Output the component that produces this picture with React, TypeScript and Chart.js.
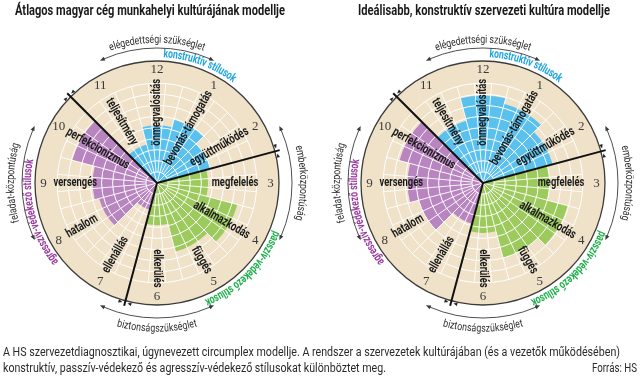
import React, { useEffect, useLayoutEffect, useRef } from 'react';
import { Chart, registerables } from 'chart.js';

Chart.register(...registerables);

// ---------------- data ----------------
const SEGMENT_NUMBERS = ['12', '1', '2', '3', '4', '5', '6', '7', '8', '9', '10', '11'];
const SEGMENT_LABELS = [
  'önmegvalósítás', 'bevonás-támogatás', 'együttműködés', 'megfelelés', 'alkalmazkodás', 'függés',
  'elkerülés', 'ellenállás', 'hatalom', 'versengés', 'perfekcionizmus', 'teljesítmény',
];
const SEGMENT_GROUPS = [
  'konstruktív', 'konstruktív', 'konstruktív', 'passzív', 'passzív', 'passzív',
  'passzív', 'agresszív', 'agresszív', 'agresszív', 'agresszív', 'konstruktív',
];
const AVERAGE_VALUES = [5.2, 5.9, 5.0, 4.6, 7.5, 6.4, 3.8, 2.5, 5.4, 5.8, 7.9, 3.6];
const IDEAL_VALUES = [7.9, 7.4, 6.5, 6.0, 7.9, 7.0, 4.5, 3.8, 6.0, 6.8, 7.8, 5.8];
const SCALE_MAX = 11;
const RING_MAX = 9;

const TITLE_LEFT = 'Átlagos magyar cég munkahelyi kultúrájának modellje';
const TITLE_RIGHT = 'Ideálisabb, konstruktív szervezeti kultúra modellje';
const CAPTION_1 = 'A HS szervezetdiagnosztikai, úgynevezett circumplex modellje. A rendszer a szervezetek kultúrájában (és a vezetők működésében)';
const CAPTION_2 = 'konstruktív, passzív-védekező és agresszív-védekező stílusokat különböztet meg.';
const SOURCE = 'Forrás: HS';

const NEED_TEXTS = ['elégedettségi szükséglet', 'emberközpontúság', 'biztonságszükséglet', 'feladat-központúság'];
const GROUP_TEXTS: Record<string, string> = {
  'konstruktív': 'konstruktív stílusok',
  'passzív': 'passzív-védekező stílusok',
  'agresszív': 'agresszív-védekező stílusok',
};

// ---------------- styles / layout ----------------
const GROUP_FILL: Record<string, string> = { 'konstruktív': '#5ac0ee', 'passzív': '#9dca5d', 'agresszív': '#b985c0' };
const GROUP_TEXT_COLOR: Record<string, string> = { 'konstruktív': '#1fa5de', 'passzív': '#1fb04c', 'agresszív': '#9a3c9f' };
const GROUP_TEXT_ANGLE: Record<string, number> = { 'konstruktív': 20, 'passzív': 135, 'agresszív': 256 };
const NEED_ANGLES = [0, 90, 180, 270];
const LABEL_RADIUS = [0.58, 0.52, 0.59, 0.64, 0.61, 0.73, 0.70, 0.68, 0.71, 0.67, 0.56, 0.58];
const BEIGE = '#efe2c9';
const R = 122;
const CY = 183;
const CW = 320;
const CH = 380;
const SANS = 'Roboto, "Liberation Sans", sans-serif';

const DEG = Math.PI / 180;

function polar(cx: number, cy: number, a: number, r: number) {
  return { x: cx + r * Math.sin(a), y: cy - r * Math.cos(a) };
}

function arrowHead(ctx: CanvasRenderingContext2D, x: number, y: number, dx: number, dy: number, size: number) {
  const len = Math.hypot(dx, dy) || 1;
  const ux = dx / len, uy = dy / len;
  const bx = x - ux * size, by = y - uy * size;
  const w = size * 0.42;
  ctx.beginPath();
  ctx.moveTo(x, y);
  ctx.lineTo(bx - uy * w, by + ux * w);
  ctx.lineTo(bx + uy * w, by - ux * w);
  ctx.closePath();
  ctx.fill();
}

function arcText(ctx: CanvasRenderingContext2D, text: string, cx: number, cy: number, r: number,
  centerDeg: number, font: string, color: string, sx: number, inward: boolean) {
  ctx.save();
  ctx.font = font;
  ctx.fillStyle = color;
  ctx.textAlign = 'center';
  ctx.textBaseline = 'middle';
  const chars = Array.from(text);
  const widths = chars.map((c) => ctx.measureText(c).width * sx);
  const total = widths.reduce((a, b) => a + b, 0);
  const span = total / r;
  const c0 = centerDeg * DEG;
  let acc = 0;
  chars.forEach((ch, i) => {
    const mid = (acc + widths[i] / 2) / r;
    const a = inward ? c0 + span / 2 - mid : c0 - span / 2 + mid;
    const p = polar(cx, cy, a, r);
    ctx.save();
    ctx.translate(p.x, p.y);
    ctx.rotate(inward ? a + Math.PI : a);
    ctx.scale(sx, 1);
    ctx.fillText(ch, 0, 0);
    ctx.restore();
    acc += widths[i];
  });
  ctx.restore();
}

function arrowArc(ctx: CanvasRenderingContext2D, cx: number, cy: number, r: number, a0: number, a1: number) {
  ctx.save();
  ctx.strokeStyle = '#3a3a3a';
  ctx.fillStyle = '#3a3a3a';
  ctx.lineWidth = 0.9;
  ctx.beginPath();
  ctx.arc(cx, cy, r, a0 - Math.PI / 2 + 0.03, a1 - Math.PI / 2 - 0.03);
  ctx.stroke();
  const p0 = polar(cx, cy, a0, r);
  const p1 = polar(cx, cy, a1, r);
  arrowHead(ctx, p0.x, p0.y, -Math.cos(a0), -Math.sin(a0), 5);
  arrowHead(ctx, p1.x, p1.y, Math.cos(a1), Math.sin(a1), 5);
  ctx.restore();
}

const circumplexPlugin = {
  id: 'circumplexDecor',
  beforeDraw(chart: any) {
    const s = chart.scales.r;
    const ctx: CanvasRenderingContext2D = chart.ctx;
    ctx.save();
    ctx.fillStyle = BEIGE;
    ctx.beginPath();
    ctx.arc(s.xCenter, s.yCenter, s.getDistanceFromCenterForValue(SCALE_MAX), 0, Math.PI * 2);
    ctx.fill();
    ctx.restore();
  },
  afterDatasetsDraw(chart: any) {
    const s = chart.scales.r;
    const ctx: CanvasRenderingContext2D = chart.ctx;
    const cx = s.xCenter, cy = s.yCenter;
    const rEnd = s.getDistanceFromCenterForValue(RING_MAX);
    const rStart = s.getDistanceFromCenterForValue(1);
    const step = (Math.PI * 2) / SEGMENT_LABELS.length;
    ctx.save();
    ctx.strokeStyle = '#ffffff';
    ctx.lineWidth = 0.9;
    for (let i = 0; i < SEGMENT_LABELS.length; i++) {
      const base = s.getIndexAngle(i);
      [0, step / 3, (2 * step) / 3].forEach((off, k) => {
        const a = base + off;
        const p0 = polar(cx, cy, a, k === 0 ? 0 : rStart);
        const p1 = polar(cx, cy, a, rEnd);
        ctx.beginPath();
        ctx.moveTo(p0.x, p0.y);
        ctx.lineTo(p1.x, p1.y);
        ctx.stroke();
      });
    }
    ctx.restore();
  },
  afterDraw(chart: any) {
    const s = chart.scales.r;
    const ctx: CanvasRenderingContext2D = chart.ctx;
    const cx = s.xCenter, cy = s.yCenter;
    const rOuter = s.getDistanceFromCenterForValue(SCALE_MAX);
    const n = SEGMENT_LABELS.length;
    const half = Math.PI / n;

    // group dividers
    ctx.save();
    for (let i = 0; i < n; i++) {
      if (SEGMENT_GROUPS[i] === SEGMENT_GROUPS[(i + n - 1) % n]) continue;
      const a = s.getIndexAngle(i);
      const p1 = polar(cx, cy, a, rOuter + 5);
      ctx.strokeStyle = '#111';
      ctx.lineWidth = 2;
      ctx.beginPath();
      ctx.moveTo(cx, cy);
      ctx.lineTo(p1.x, p1.y);
      ctx.stroke();
      ctx.fillStyle = '#222';
      for (const dir of [-1, 1]) {
        const aa = a + dir * 1.2 * DEG;
        const p = polar(cx, cy, aa, rOuter + 2);
        arrowHead(ctx, p.x, p.y, -dir * Math.cos(aa), -dir * Math.sin(aa), 4);
      }
    }
    ctx.restore();

    // numbers
    ctx.save();
    ctx.font = '13px "Liberation Serif", serif';
    ctx.fillStyle = '#3a3a3a';
    ctx.textAlign = 'center';
    ctx.textBaseline = 'middle';
    for (let i = 0; i < n; i++) {
      const a = s.getIndexAngle(i) + half;
      const p = polar(cx, cy, a, rOuter * 0.93);
      ctx.fillText(SEGMENT_NUMBERS[i], p.x, p.y + 0.5);
    }
    ctx.restore();

    // radial style labels
    ctx.save();
    ctx.font = `bold 13px ${SANS}`;
    ctx.fillStyle = '#1a1a1a';
    ctx.textAlign = 'center';
    ctx.textBaseline = 'middle';
    for (let i = 0; i < n; i++) {
      const a = s.getIndexAngle(i) + half;
      let deg = (a / DEG) % 360;
      if (deg < 0) deg += 360;
      const rot = (deg > 180.5 && deg < 359.5 ? deg - 270 : deg - 90) * DEG;
      const p = polar(cx, cy, a, rOuter * LABEL_RADIUS[i]);
      ctx.save();
      ctx.translate(p.x, p.y);
      ctx.rotate(rot);
      ctx.scale(0.72, 1);
      ctx.fillText(SEGMENT_LABELS[i], 0, 0);
      ctx.restore();
    }
    ctx.restore();

    // group texts
    Object.keys(GROUP_TEXTS).forEach((g) => {
      arcText(ctx, GROUP_TEXTS[g], cx, cy, rOuter + 7, GROUP_TEXT_ANGLE[g], `bold 12px ${SANS}`,
        GROUP_TEXT_COLOR[g], 0.72, false);
    });

    // need texts and arrows
    NEED_TEXTS.forEach((t, k) => {
      const ang = NEED_ANGLES[k];
      const inward = ang === 180;
      const rText = ang === 0 ? rOuter + 21 : rOuter + 24;
      arcText(ctx, t, cx, cy, rText, ang, `11px ${SANS}`, '#2e2e2e', 0.8, inward);
      arrowArc(ctx, cx, cy, rOuter + 13, (ang - 25) * DEG, (ang + 25) * DEG);
    });
  },
};

function CircumplexChart({ values, left, cx }: { values: number[]; left: number; cx: number }) {
  const ref = useRef<HTMLCanvasElement>(null);
  useEffect(() => {
    const canvas = ref.current;
    if (!canvas) return;
    const chart = new Chart(canvas, {
      type: 'polarArea',
      data: {
        labels: SEGMENT_LABELS,
        datasets: [{
          data: values,
          backgroundColor: SEGMENT_GROUPS.map((g) => GROUP_FILL[g]),
          borderWidth: 0,
        }],
      },
      options: {
        responsive: false,
        animation: false,
        devicePixelRatio: 1,
        events: [],
        layout: { padding: { left: cx - R, right: CW - cx - R, top: CY - R, bottom: CH - CY - R } },
        plugins: { legend: { display: false }, tooltip: { enabled: false } },
        scales: {
          r: {
            min: 0,
            max: SCALE_MAX,
            startAngle: -15,
            ticks: { display: false, stepSize: 1 },
            pointLabels: { display: false },
            angleLines: { display: false },
            grid: {
              z: 1,
              color: (c: any) => (c.tick.value >= SCALE_MAX ? '#3c3c3c' : c.tick.value > RING_MAX ? 'rgba(0,0,0,0)' : '#ffffff'),
              lineWidth: (c: any) => (c.tick.value >= SCALE_MAX ? 1.3 : 1),
            },
          },
        },
      } as any,
      plugins: [circumplexPlugin],
    });
    return () => chart.destroy();
  }, [values, cx]);
  return (
    <canvas ref={ref} width={CW} height={CH}
      style={{ position: 'absolute', left, top: 0, width: CW, height: CH }} />
  );
}

function FitText({ text, x, y, width, size, bold }: { text: string; x: number; y: number; width: number; size: number; bold?: boolean }) {
  const ref = useRef<HTMLSpanElement>(null);
  useLayoutEffect(() => {
    const el = ref.current;
    if (!el) return;
    el.style.transform = 'none';
    const w = el.getBoundingClientRect().width;
    if (w > 0) el.style.transform = `scaleX(${width / w})`;
  }, [text, width, size]);
  return (
    <span ref={ref} style={{
      position: 'absolute', left: x, top: y, whiteSpace: 'nowrap', fontFamily: SANS,
      fontSize: size, lineHeight: `${Math.round(size * 1.25)}px`, fontWeight: bold ? 700 : 400,
      color: bold ? '#1a1a1a' : '#2a2a2a', transformOrigin: '0 0', display: 'inline-block',
    }}>{text}</span>
  );
}

export default function App() {
  useEffect(() => {
    document.body.style.margin = '0';
  }, []);
  return (
    <div style={{ position: 'relative', width: 640, height: 380, background: '#fff', overflow: 'hidden' }}>
      <CircumplexChart values={AVERAGE_VALUES} left={0} cx={157} />
      <CircumplexChart values={IDEAL_VALUES} left={320} cx={163} />
      <FitText text={TITLE_LEFT} x={15} y={1} width={270} size={15} bold />
      <FitText text={TITLE_RIGHT} x={358} y={1} width={252} size={15} bold />
      <FitText text={CAPTION_1} x={3} y={344} width={617} size={12.5} />
      <FitText text={CAPTION_2} x={3} y={360} width={383} size={12.5} />
      <FitText text={SOURCE} x={592} y={360} width={45} size={12.5} />
    </div>
  );
}
